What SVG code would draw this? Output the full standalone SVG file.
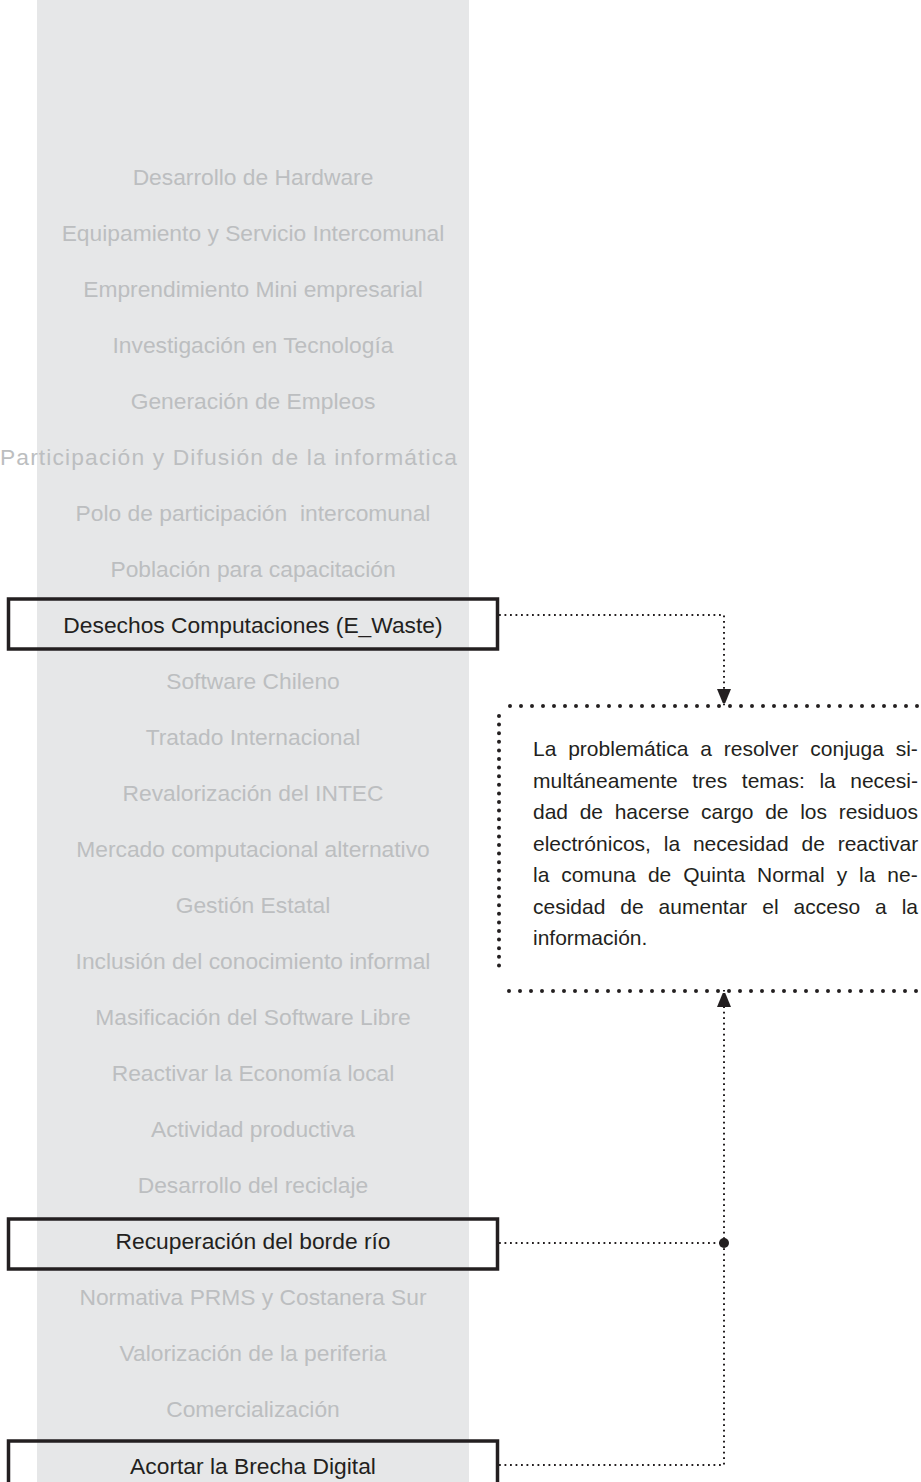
<svg xmlns="http://www.w3.org/2000/svg" width="921" height="1482" viewBox="0 0 921 1482">
  <style>
    .bg { fill: #ffffff; }
    .panel { fill: #e6e7e8; }
    .item { font-family: "Liberation Sans", Arial, sans-serif; font-size: 22.8px; text-anchor: middle; fill: #bcbec0; white-space: pre; }
    .key { fill: #231f20; }
    .box { fill: none; stroke: #231f20; stroke-width: 3.5; }
    .link { fill: none; stroke: #231f20; stroke-width: 2; stroke-dasharray: 1.8 3.7; }
    .frame { fill: none; stroke: #231f20; stroke-width: 4; stroke-linecap: round; }
    .note { font-family: "Liberation Sans", Arial, sans-serif; font-size: 21px; fill: #231f20; white-space: pre; }
  </style>
  <defs>
    <marker id="arrow" markerUnits="userSpaceOnUse" markerWidth="14" markerHeight="18" refX="17" refY="7" orient="auto">
      <path d="M0,0 L17,7 L0,14 Z" fill="#231f20"/>
    </marker>
  </defs>

  <rect class="bg" x="0" y="0" width="921" height="1482"/>
  <rect class="panel" x="37" y="0" width="432" height="1482"/>

  <!-- list of topics -->
  <g id="topics">
    <text class="item" x="253" y="185">Desarrollo de Hardware</text>
    <text class="item" x="253" y="241">Equipamiento y Servicio Intercomunal</text>
    <text class="item" x="253" y="297">Emprendimiento Mini empresarial</text>
    <text class="item" x="253" y="353">Investigación en Tecnología</text>
    <text class="item" x="253" y="409">Generación de Empleos</text>
    <text class="item" x="228.5" y="465" textLength="457" lengthAdjust="spacing">Participación y Difusión de la informática</text>
    <text class="item" x="253" y="521">Polo de participación  intercomunal</text>
    <text class="item" x="253" y="577">Población para capacitación</text>
    <text class="item" x="253" y="689">Software Chileno</text>
    <text class="item" x="253" y="745">Tratado Internacional</text>
    <text class="item" x="253" y="801">Revalorización del INTEC</text>
    <text class="item" x="253" y="857">Mercado computacional alternativo</text>
    <text class="item" x="253" y="913">Gestión Estatal</text>
    <text class="item" x="253" y="969">Inclusión del conocimiento informal</text>
    <text class="item" x="253" y="1025">Masificación del Software Libre</text>
    <text class="item" x="253" y="1081">Reactivar la Economía local</text>
    <text class="item" x="253" y="1137">Actividad productiva</text>
    <text class="item" x="253" y="1193">Desarrollo del reciclaje</text>
    <text class="item" x="253" y="1305">Normativa PRMS y Costanera Sur</text>
    <text class="item" x="253" y="1361">Valorización de la periferia</text>
    <text class="item" x="253" y="1417">Comercialización</text>
  </g>

  <g id="node-ewaste">
    <rect class="box" x="8.5" y="599" width="489" height="50"/>
    <text class="item key" x="253" y="633">Desechos Computaciones (E_Waste)</text>
  </g>

  <g id="node-rio">
    <rect class="box" x="8.5" y="1219" width="489" height="50"/>
    <text class="item key" x="253" y="1249">Recuperación del borde río</text>
  </g>

  <g id="node-brecha">
    <rect class="box" x="8.5" y="1441" width="489" height="60"/>
    <text class="item key" x="253" y="1474">Acortar la Brecha Digital</text>
  </g>

  <g id="node-problem">
    <path class="frame" d="M510,706 H935" stroke-dasharray="0 11"/>
    <path class="frame" d="M509,991 H935" stroke-dasharray="0 11"/>
    <path class="frame" d="M499,716 V974" stroke-dasharray="0 8.6"/>
    <text class="note" x="533" y="756" word-spacing="6.0">La problemática a resolver conjuga si-</text>
    <text class="note" x="533" y="787.5" word-spacing="8.7">multáneamente tres temas: la necesi-</text>
    <text class="note" x="533" y="819" word-spacing="5.8">dad de hacerse cargo de los residuos</text>
    <text class="note" x="533" y="850.5" word-spacing="7.0">electrónicos, la necesidad de reactivar</text>
    <text class="note" x="533" y="882" word-spacing="6.1">la comuna de Quinta Normal y la ne-</text>
    <text class="note" x="533" y="913.5" word-spacing="9.1">cesidad de aumentar el acceso a la</text>
    <text class="note" x="533" y="945">información.</text>
  </g>

  <g id="connectors">
    <path class="link" d="M499,615 H724 V706" marker-end="url(#arrow)"/>
    <path class="link" d="M499,1465 H724 V990" marker-end="url(#arrow)"/>
    <path class="link" d="M499,1243 H724"/>
    <circle cx="724" cy="1243" r="5" fill="#231f20"/>
  </g>
</svg>
